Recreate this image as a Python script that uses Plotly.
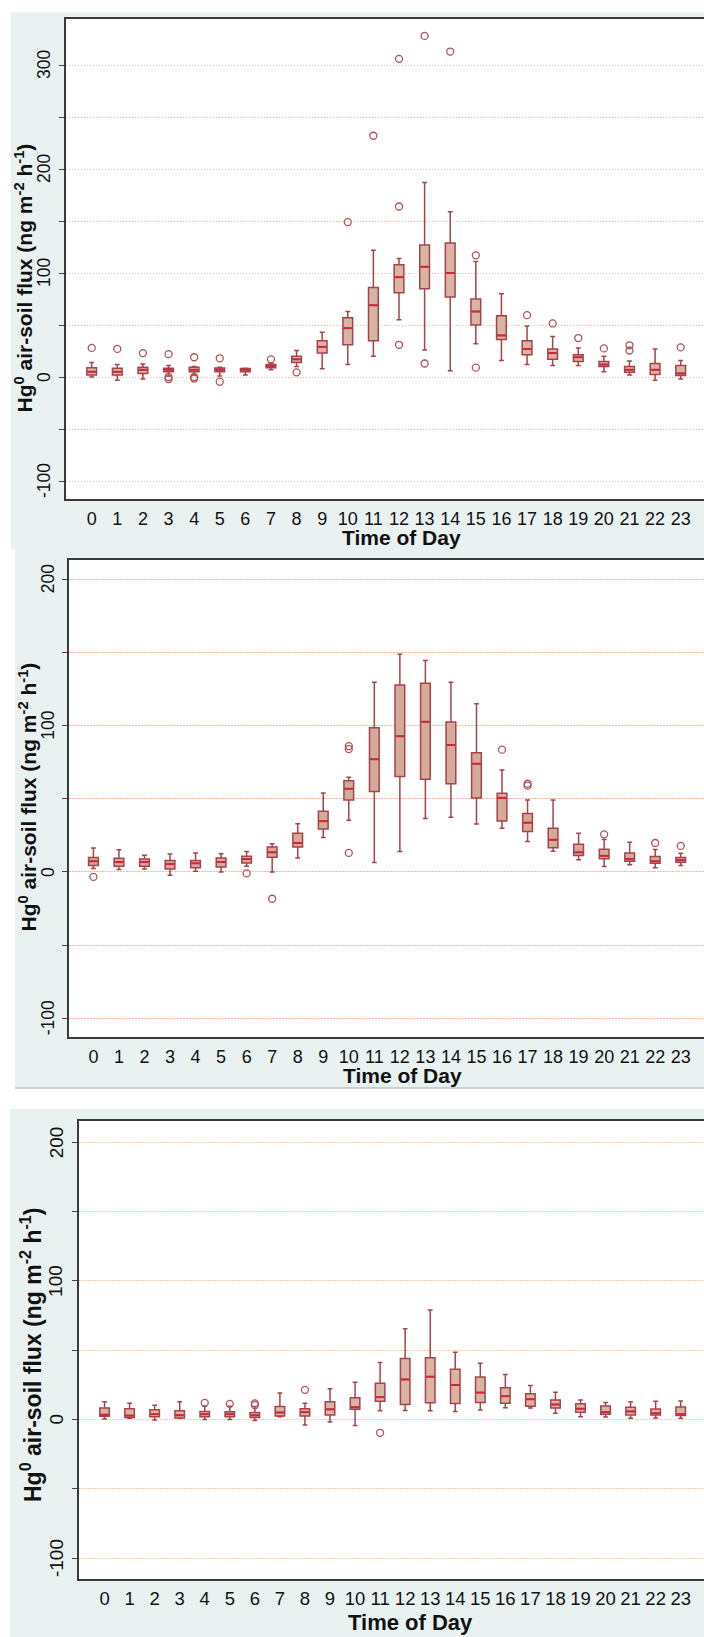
import plotly.graph_objects as go

hours = list(range(24))

# ---------- Panel 1 ----------
p1_low = [0, -3, -2, 1, 2, 1, 2, 7, 10, 8, 12, 20, 55, 26, 6, 32, 16, 12, 11, 11, 5, 2, -3, -2]
p1_q1 = [2, 2, 3.5, 5, 5, 5, 5, 9, 14, 23, 31, 35, 81, 85, 77, 50, 36, 21.5, 17, 15, 10, 4.5, 2.5, 1.5]
p1_med = [5, 5, 7, 7, 7, 7, 7, 10.7, 17, 29, 47, 69, 96, 106, 100, 63, 40, 27, 23, 19, 12, 7, 7, 3.5]
p1_q3 = [9, 8.5, 9.5, 8.5, 9.5, 8.7, 8.3, 12, 20, 35, 57, 86, 108, 127, 129, 75, 59, 35, 27, 21.5, 15, 10, 13, 11]
p1_high = [14, 12, 12.5, 11, 10, 9.5, 8.5, 13.5, 25.5, 43, 63, 122, 114, 187, 159, 111, 80, 49, 39, 28, 20, 15.5, 27, 16]
p1_out_x = [0, 1, 2, 3, 3, 3, 4, 4, 4, 5, 5, 7, 8, 10, 11, 12, 12, 12, 13, 13, 14, 15, 15, 17, 18, 19, 20, 21, 21, 23]
p1_out_y = [28, 27, 23, 22, 0, -2, 19, 0, -1.5, 18, -4.5, 17, 4.5, 149, 232, 306, 164, 31, 328, 13, 313, 117, 9, 59.5, 51.5, 37.5, 27.5, 30.5, 25.5, 28.5]

# ---------- Panel 2 ----------
p2_low = [2.4, 1.7, 2, -2.2, 0.5, 0, 3.9, 0, 9.5, 23.5, 35.4, 6.4, 13.9, 36.6, 37.4, 32.7, 29.8, 20.8, 14.2, 8.3, 3.7, 4.9, 2.9, 4.4]
p2_q1 = [4.4, 3.9, 3.9, 2, 2.9, 3.4, 6.1, 10, 17.1, 29.3, 49.1, 55, 65.2, 63.3, 60.3, 50.6, 34.9, 27.6, 16.6, 11.2, 9, 7.3, 5.9, 6.6]
p2_med = [7.3, 6.8, 6.8, 5.4, 5.9, 6.8, 8.8, 13.4, 19.8, 34.7, 56.9, 77, 92.8, 102.6, 86.7, 74, 50.6, 33.7, 22, 13.4, 11, 8.8, 7.3, 8.1]
p2_q3 = [9.8, 9.3, 8.8, 7.8, 7.8, 9.5, 10.7, 17.1, 26.4, 41.5, 62.3, 98.5, 127.8, 129, 102.4, 81.4, 53.8, 40, 29.8, 19, 15.6, 12.9, 10.5, 9.8]
p2_high = [16.4, 15.1, 11.5, 12.2, 13, 12.5, 13.9, 19.3, 33, 54, 64.7, 129.7, 148.8, 144.6, 129.7, 115, 69.6, 49.1, 49.1, 26.4, 22.2, 20.3, 15.4, 12.7]
p2_out_x = [0, 6, 7, 10, 10, 10, 16, 17, 17, 20, 22, 23]
p2_out_y = [-3.4, -1, -18.3, 86, 84, 13, 83.6, 60.3, 59, 25.7, 19.8, 17.8]

# ---------- Panel 3 ----------
p3_low = [0.3, 0.8, -0.3, 0.8, 0, 0, -0.8, 2, -4, -1.8, -4.3, 6.3, 6.5, 6.3, 5.8, 6.8, 8.5, 8.3, 4.5, 2, 1.8, 0.8, 1, 0.8]
p3_q1 = [2.3, 1.5, 2, 1, 2, 2, 1.5, 2.5, 2.5, 3.3, 7.3, 13.1, 10.8, 12.1, 11.6, 12.3, 11.8, 9.6, 8.3, 5.3, 3.8, 3.3, 3.3, 2.8]
p3_med = [3.5, 2.8, 3.8, 3, 3.8, 3.8, 3, 5, 5.3, 7.3, 8.8, 16.1, 28.9, 30.9, 24.9, 19.4, 16.8, 14.6, 10.8, 7.8, 5.3, 5.8, 4.5, 3.8]
p3_q3 = [8.3, 7.8, 7, 6.3, 5.8, 5.5, 5, 9.3, 7.8, 12.8, 15.6, 26.1, 44, 44.5, 36.2, 30.7, 22.9, 18.6, 14.1, 11.3, 9.8, 8.8, 7.5, 9]
p3_high = [12.8, 11.8, 10.3, 12.8, 9.8, 9.5, 9.3, 19.1, 11.8, 22.1, 26.9, 41.2, 65.4, 79, 48.5, 40.5, 32.4, 24.6, 19.6, 14.1, 12.3, 12.8, 13.1, 13.3]
p3_out_x = [4, 5, 6, 6, 8, 11]
p3_out_y = [12, 11.3, 11.6, 10.3, 21.4, -9.6]

y_tickvals = [-100, -50, 0, 50, 100, 150, 200, 250, 300]
y_label_vals = [-100, 0, 100, 200, 300]
y_label_text = ["-100", "0", "100", "200", "300"]
x_ticklabels = [str(h) for h in hours]

W, H = 704, 1637

LINE = "#a4444c"
FILL = "#d9b4a5"
MED = "#d3253a"
FONT = "Liberation Sans, Arial, Helvetica, sans-serif"
TXT = "#111111"

panels = [
    dict(low=p1_low, q1=p1_q1, med=p1_med, q3=p1_q3, high=p1_high, ox=p1_out_x, oy=p1_out_y,
         frame=(65.7, 19.3, 499.0), yr=[-117.3, 344], xr=[-1.015, 23.91],
         bg=(10.7, 12.3, 549.0), grid="#f8b898", tick=18, ylab=(44, 17.5), xstand=2,
         fill=FILL, ytitle=(23.5, 278, 21), xtitle=(401, 537, 21)),
    dict(low=p2_low, q1=p2_q1, med=p2_med, q3=p2_q3, high=p2_high, ox=p2_out_x, oy=p2_out_y,
         frame=(69.0, 560.0, 1037.3), yr=[-113, 213.2], xr=[-0.956, 23.91],
         bg=(15.0, 549.0, 1088.0), grid="#f8b898", tick=18, ylab=(48, 17.5), xstand=2,
         fill="#d5aa98", ytitle=(27.5, 797, 21), xtitle=(402, 1075, 21)),
    dict(low=p3_low, q1=p3_q1, med=p3_med, q3=p3_q3, high=p3_high, ox=p3_out_x, oy=p3_out_y,
         frame=(79.0, 1121.0, 1578.7), yr=[-114.9, 215.4], xr=[-1.02, 23.93],
         bg=(10.0, 1109.0, 1637.0), grid="#f8cca5", tick=18.5, ylab=(56, 19), xstand=2,
         fill=FILL, ytitle=(31, 1355, 23), xtitle=(410, 1622, 22)),
]

fig = go.Figure()
shapes = []
annotations = []
layout = {}
BW = 0.38

for i, p in enumerate(panels):
    n = "" if i == 0 else str(i + 1)
    xa, ya = "x" + n, "y" + n
    left, top, bottom = p["frame"]
    bx, btop, bbot = p["bg"]
    # grey panel background, then white plot area
    shapes.append(dict(type="rect", xref="paper", yref="paper", layer="below",
                       x0=bx / W, x1=1, y0=1 - bbot / H, y1=1 - btop / H,
                       fillcolor="#e9f1f1", line=dict(width=0)))
    shapes.append(dict(type="rect", xref="paper", yref="paper", layer="below",
                       x0=left / W, x1=1, y0=1 - bottom / H, y1=1 - top / H,
                       fillcolor="white", line=dict(width=0)))

    fig.add_trace(go.Box(
        x=hours, q1=p["q1"], median=p["med"], q3=p["q3"],
        lowerfence=p["low"], upperfence=p["high"],
        boxpoints=False, width=BW, whiskerwidth=0.5,
        fillcolor=p["fill"], line=dict(color=LINE, width=1.5),
        xaxis=xa, yaxis=ya, showlegend=False, hoverinfo="skip"))
    mx, my = [], []
    for h, m in zip(hours, p["med"]):
        mx += [h - BW / 2 + 0.03, h + BW / 2 - 0.03, None]
        my += [m, m, None]
    fig.add_trace(go.Scatter(x=mx, y=my, mode="lines", line=dict(color=MED, width=2),
                             xaxis=xa, yaxis=ya, showlegend=False, hoverinfo="skip"))
    fig.add_trace(go.Scatter(x=p["ox"], y=p["oy"], mode="markers",
                             marker=dict(symbol="circle-open", size=7, color="#b0525a",
                                         line=dict(width=1.3, color="#b0525a")),
                             xaxis=xa, yaxis=ya, showlegend=False, hoverinfo="skip"))

    layout["xaxis" + n] = dict(
        domain=[left / W, 1], anchor=ya, range=p["xr"],
        tickmode="array", tickvals=hours, ticktext=x_ticklabels,
        ticks="", showgrid=False, zeroline=False,
        showline=True, mirror=True, linecolor="#3a3a3a", linewidth=2,
        tickfont=dict(family=FONT, size=p["tick"], color=TXT),
        ticklabelstandoff=p["xstand"])
    layout["yaxis" + n] = dict(
        domain=[1 - bottom / H, 1 - top / H], anchor=xa, range=p["yr"],
        tickmode="array", tickvals=y_tickvals,
        showticklabels=False, ticks="outside", ticklen=5, tickwidth=1.2, tickcolor="#444",
        showgrid=True, gridcolor=p["grid"], gridwidth=1.2, griddash="1.5px,1.5px",
        zeroline=False, showline=True, mirror=False, linecolor="#3a3a3a", linewidth=2)

    # rotated y tick labels placed on the y axis scale
    lx, lsize = p["ylab"]
    for v, t in zip(y_label_vals, y_label_text):
        if p["yr"][0] <= v <= p["yr"][1]:
            annotations.append(dict(
                xref="paper", yref=ya, x=lx / W, y=v, xanchor="center", yanchor="middle",
                textangle=-90, showarrow=False, text=t,
                font=dict(family=FONT, size=lsize, color=TXT)))

    tx, ty, ts = p["ytitle"]
    annotations.append(dict(
        xref="paper", yref="paper", x=tx / W, y=1 - ty / H, xanchor="center", yanchor="middle",
        textangle=-90, showarrow=False,
        text="<b>Hg<sup>0</sup> air-soil flux (ng m<sup>-2</sup> h<sup>-1</sup>)</b>",
        font=dict(family=FONT, size=ts, color=TXT)))
    xx, xy, xs = p["xtitle"]
    annotations.append(dict(
        xref="paper", yref="paper", x=xx / W, y=1 - xy / H, xanchor="center", yanchor="middle",
        showarrow=False, text="<b>Time of Day</b>",
        font=dict(family=FONT, size=xs, color=TXT)))

# thin separator line at bottom of middle panel
shapes.append(dict(type="line", xref="paper", yref="paper", x0=15 / W, x1=1,
                   y0=1 - 1088 / H, y1=1 - 1088 / H, line=dict(color="#b9c4c6", width=1.5)))

fig.update_layout(
    width=W, height=H, margin=dict(l=0, r=0, t=0, b=0),
    paper_bgcolor="white", plot_bgcolor="rgba(0,0,0,0)",
    shapes=shapes, annotations=annotations, showlegend=False,
    **layout)

fig.write_html("out.html")
